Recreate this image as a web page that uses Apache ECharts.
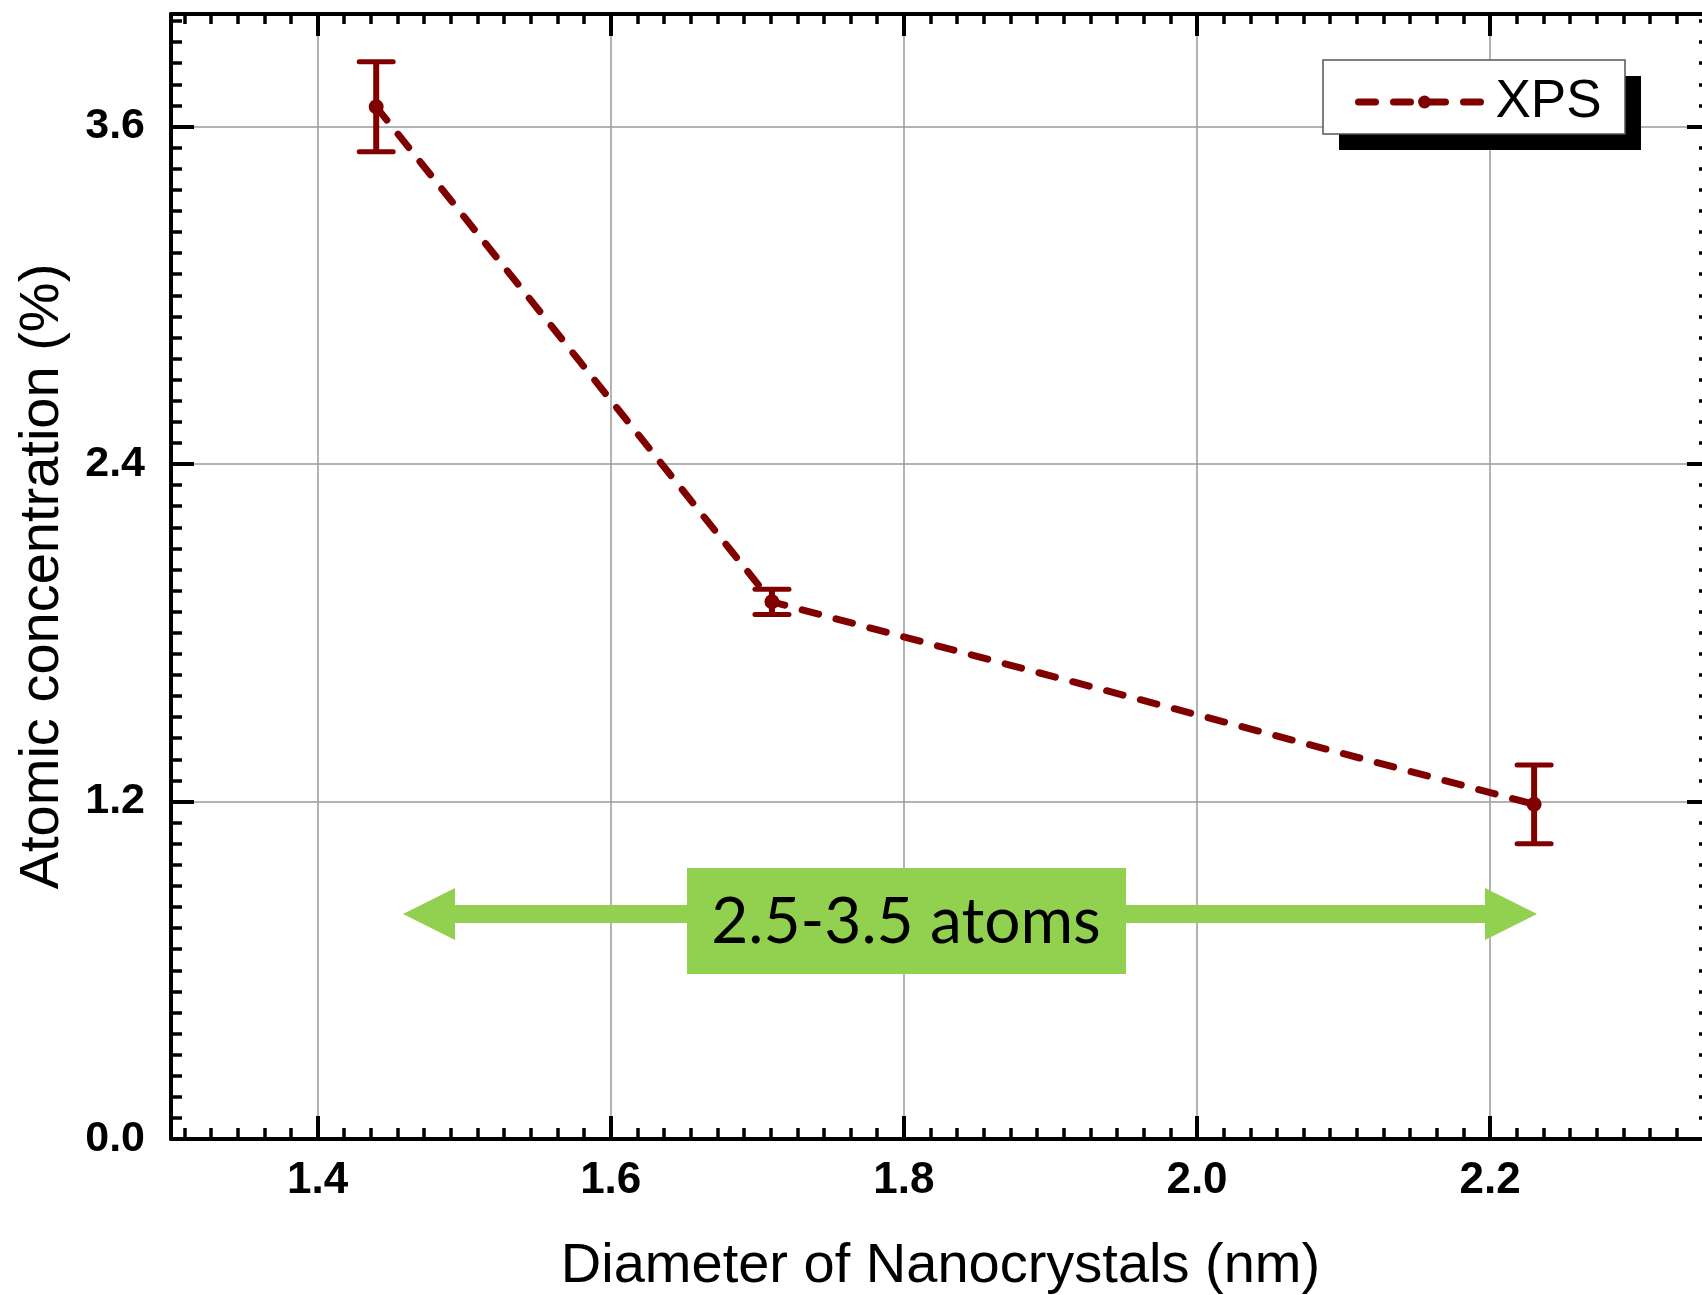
<!DOCTYPE html>
<html>
<head>
<meta charset="utf-8">
<script src="https://cdn.jsdelivr.net/npm/echarts@6/dist/echarts.min.js"></script>
<style>
html,body{margin:0;padding:0;background:#fff}
#chart{width:1702px;height:1295px}
</style>
</head>
<body>
<div id="chart"></div>
<script>
// XPS points
const diameters = [1.44, 1.71, 2.23];
const concentration = [3.67, 1.91, 1.19];
const errors = [0.16, 0.045, 0.14];

// axes
const xMajorTicks = [1.4, 1.6, 1.8, 2.0, 2.2];
const yMajorTicks = [0.0, 1.2, 2.4, 3.6];
const xMin = 1.3, xMax = 2.35, yMin = 0, yMax = 4.0;
const yMinorStep = 0.075;
// the source plot puts 11 minor ticks in each 0.2 step
const xMinorTicks = [];
for (let k = -5; k <= 52; k++) {
  const v = 1.4 + k * 0.2 / 11;
  if (v >= xMin && v <= xMax) xMinorTicks.push(+v.toFixed(5));
}

const font = '"Liberation Sans", Arial, sans-serif';
const dark = '#800000';
const green = '#92d050';

function majorAxis(pos, ticks, len, extra) {
  return Object.assign({
    type: 'value', position: pos,
    axisLine: { show: true, onZero: false, lineStyle: { color: '#000', width: 4 } },
    axisTick: { show: true, inside: true, length: len, customValues: ticks, lineStyle: { color: '#000', width: 4 } },
    axisLabel: { show: false },
    splitLine: { show: false }
  }, extra);
}
function minorAxis(pos, extra) {
  return Object.assign({
    type: 'value', position: pos,
    axisLine: { show: false, onZero: false },
    axisTick: { show: true, inside: true, length: 11, lineStyle: { color: '#000', width: 3.5 } },
    axisLabel: { show: false },
    splitLine: { show: false }
  }, extra);
}

const chart = echarts.init(document.getElementById('chart'));

chart.setOption({
  animation: false,
  backgroundColor: '#fff',
  grid: { left: 171, right: -8, top: 14, bottom: 156, containLabel: false, outerBoundsMode: 'none' },
  legend: {
    data: ['XPS'],
    left: 1355, top: 72,
    padding: 0,
    z: 20,
    itemWidth: 132, itemHeight: 16, itemGap: 12,
    lineStyle: { width: 7, cap: 'round' },
    textStyle: { fontSize: 53, lineHeight: 60, color: '#000', fontFamily: font }
  },
  xAxis: [
    majorAxis('bottom', xMajorTicks, 23, {
      min: xMin, max: xMax,
      axisLabel: {
        show: true, customValues: xMajorTicks, formatter: v => v.toFixed(1),
        fontSize: 44, fontWeight: 'bold', color: '#000', fontFamily: font, margin: 20
      },
      splitLine: { show: true, lineStyle: { color: '#9a9a9a', width: 1.5 } },
      name: 'Diameter of Nanocrystals (nm)', nameLocation: 'middle', nameGap: 100,
      nameTextStyle: { fontSize: 56, color: '#000', fontFamily: font }
    }),
    minorAxis('bottom', { min: xMin, max: xMax, axisTick: { show: true, inside: true, length: 11, customValues: xMinorTicks, lineStyle: { color: '#000', width: 3.5 } } }),
    majorAxis('top', xMajorTicks, 22, { min: xMin, max: xMax }),
    minorAxis('top', { min: xMin, max: xMax, axisTick: { show: true, inside: true, length: 10, customValues: xMinorTicks, lineStyle: { color: '#000', width: 3.5 } } })
  ],
  yAxis: [
    majorAxis('left', yMajorTicks, 23, {
      min: yMin, max: yMax,
      axisLabel: {
        show: true, customValues: yMajorTicks, formatter: v => v.toFixed(1),
        fontSize: 43, fontWeight: 'bold', color: '#000', fontFamily: font, margin: 26
      },
      splitLine: { show: true, lineStyle: { color: '#9a9a9a', width: 1.5 } },
      name: 'Atomic concentration (%)', nameLocation: 'middle', nameGap: 100,
      nameTextStyle: { fontSize: 56, color: '#000', fontFamily: font }
    }),
    minorAxis('left', { min: yMin, max: yMax, interval: yMinorStep }),
    majorAxis('right', yMajorTicks, 23, { min: yMin, max: yMax }),
    minorAxis('right', { min: yMin, max: yMax, interval: yMinorStep })
  ],
  series: [
    {
      name: 'XPS',
      type: 'line',
      xAxisIndex: 0, yAxisIndex: 0,
      data: diameters.map((x, i) => [x, concentration[i]]),
      symbol: 'circle', symbolSize: 15,
      itemStyle: { color: dark },
      lineStyle: { color: dark, width: 7, type: [17, 18], cap: 'round' },
      z: 3
    },
    {
      name: 'error',
      type: 'custom',
      xAxisIndex: 0, yAxisIndex: 0,
      data: diameters.map((x, i) => [x, concentration[i] - errors[i], concentration[i] + errors[i]]),
      encode: { x: 0, y: [1, 2] },
      renderItem: function (params, api) {
        const x = api.value(0);
        const lo = api.coord([x, api.value(1)]);
        const hi = api.coord([x, api.value(2)]);
        const half = 17;
        return {
          type: 'group',
          children: [
            { type: 'line', shape: { x1: lo[0], y1: lo[1], x2: hi[0], y2: hi[1] }, style: { stroke: dark, lineWidth: 6 } },
            { type: 'line', shape: { x1: lo[0] - half, y1: lo[1], x2: lo[0] + half, y2: lo[1] }, style: { stroke: dark, lineWidth: 5, lineCap: 'round' } },
            { type: 'line', shape: { x1: hi[0] - half, y1: hi[1], x2: hi[0] + half, y2: hi[1] }, style: { stroke: dark, lineWidth: 5, lineCap: 'round' } }
          ]
        };
      },
      z: 4
    }
  ],
  graphic: [
    // legend frame with its hard drop shadow
    { type: 'rect', z: 15, shape: { x: 1339, y: 76, width: 302, height: 74 }, style: { fill: '#000' } },
    { type: 'rect', z: 16, shape: { x: 1323, y: 60, width: 302, height: 74 }, style: { fill: '#fff', stroke: '#555', lineWidth: 1.5 } },
    {
      type: 'polygon', z: 10,
      shape: { points: [[403, 914], [455, 888], [455, 905], [1485, 905], [1485, 888], [1537, 914], [1485, 940], [1485, 923], [455, 923], [455, 940]] },
      style: { fill: green }
    },
    { type: 'rect', z: 11, shape: { x: 687, y: 868, width: 439, height: 106 }, style: { fill: green } },
    {
      type: 'text', z: 12, x: 906, y: 922,
      style: { text: '2.5-3.5 atoms', fontSize: 64, fontFamily: 'Lato, "Open Sans", sans-serif', fill: '#000', align: 'center', verticalAlign: 'middle' }
    }
  ]
});
</script>
</body>
</html>
